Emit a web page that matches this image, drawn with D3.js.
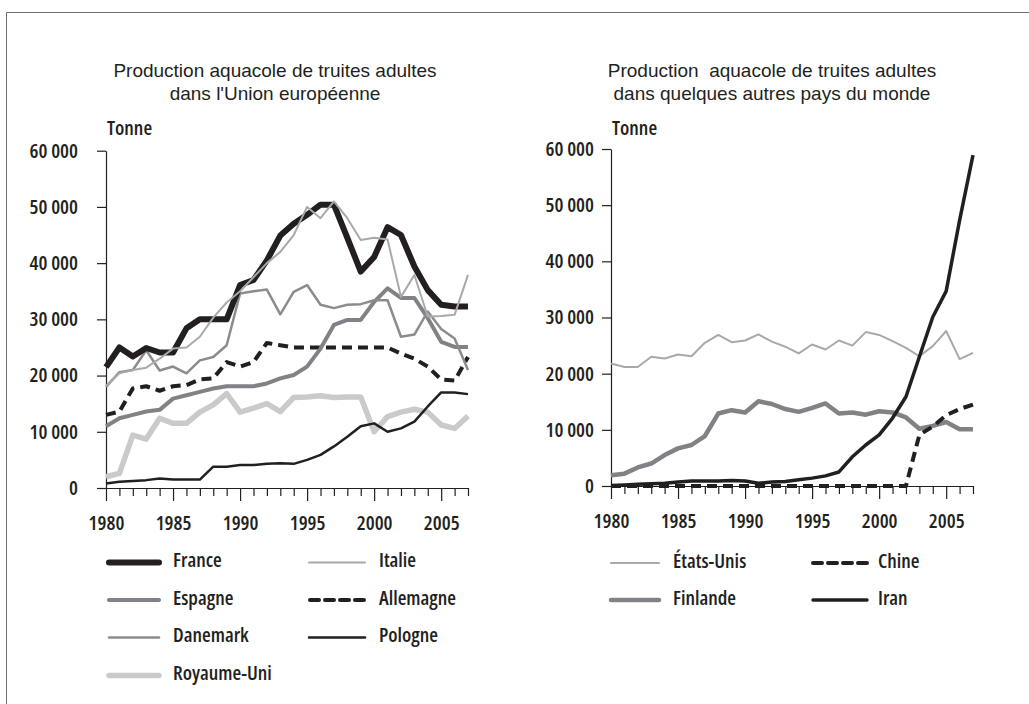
<!DOCTYPE html>
<html>
<head>
<meta charset="utf-8">
<script src="https://cdn.jsdelivr.net/npm/d3@7"></script>
<style>
body { margin: 0; background: #fff; }
text { fill: #231f20; }
.title { font-family: "Liberation Sans", Arial, sans-serif; font-size: 19px; }
.lab, .tick text { font-family: "Open Sans", sans-serif; font-stretch: 75%; font-size: 20px; font-weight: 600; }
.domain, .tick line { stroke: #231f20; stroke-width: 1.2; }
</style>
</head>
<body>
<div id="chart"></div>
<script>
var width = 1029,
  height = 704;

// data (tonnes)
var years = [1980, 1981, 1982, 1983, 1984, 1985, 1986, 1987, 1988, 1989, 1990, 1991, 1992, 1993,
  1994, 1995, 1996, 1997, 1998, 1999, 2000, 2001, 2002, 2003, 2004, 2005, 2006, 2007];
var yTicks = [0, 10000, 20000, 30000, 40000, 50000, 60000];
var xTicks = [1980, 1985, 1990, 1995, 2000, 2005];

var france = [21500, 25000, 23400, 24900, 24100, 24100, 28400, 30000, 30000, 30000, 36100, 37000, 40500, 44900,
  47000, 48600, 50400, 50400, 44500, 38500, 41100, 46400, 45000, 39400, 35200, 32600, 32300, 32300];
var italie = [18200, 20400, 21000, 21400, 23000, 24800, 25000, 26900, 30300, 33000, 35000, 37500, 40000, 42000,
  45000, 50000, 48000, 51000, 48000, 44100, 44500, 44200, 34000, 37900, 30500, 30600, 30800, 37900];
var espagne = [11000, 12400, 13000, 13600, 13900, 15900, 16500, 17100, 17700, 18100, 18100, 18100, 18600, 19500,
  20100, 21600, 24800, 29000, 29900, 29900, 33100, 35500, 33800, 33800, 30200, 26000, 25100, 25100];
var allemagne = [13000, 13600, 17700, 18100, 17300, 18100, 18300, 19300, 19500, 22400, 21600, 22400, 25800, 25400,
  25000, 25000, 25000, 25000, 25000, 25000, 25000, 25000, 23900, 23000, 21600, 19300, 19100, 23300];
var danemark = [18000, 20600, 21000, 24500, 20900, 21600, 20400, 22700, 23300, 25400, 34600, 35000, 35300, 30900,
  34900, 36100, 32600, 32000, 32600, 32700, 33400, 33400, 26900, 27300, 31400, 28300, 26600, 21000];
var pologne = [800, 1100, 1250, 1400, 1700, 1500, 1500, 1500, 3800, 3800, 4100, 4100, 4300, 4400,
  4300, 5000, 5900, 7400, 9100, 11000, 11500, 10000, 10600, 11800, 14500, 17000, 17000, 16700];
var royaumeUni = [2000, 2600, 9400, 8700, 12400, 11500, 11500, 13500, 14800, 16800, 13500, 14200, 15000, 13600,
  16100, 16200, 16400, 16100, 16200, 16200, 10000, 12700, 13500, 14000, 13500, 11200, 10600, 12800];

var etatsUnis = [21800, 21200, 21200, 23000, 22700, 23400, 23100, 25500, 26900, 25600, 25900, 27000, 25700, 24800,
  23600, 25200, 24300, 25900, 25000, 27400, 26900, 25800, 24600, 23100, 24900, 27600, 22600, 23700];
var finlande = [1900, 2200, 3300, 4000, 5500, 6700, 7300, 8900, 12900, 13500, 13100, 15100, 14600, 13700,
  13200, 13900, 14700, 12900, 13100, 12700, 13300, 13100, 12200, 10200, 10700, 11400, 10100, 10100];
var chine = [0, 0, 0, 0, 0, 0, 0, 0, 0, 0, 0, 0, 0, 0,
  0, 0, 0, 0, 0, 0, 0, 0, 0, 9100, 10600, 12600, 13700, 14500];
var iran = [100, 200, 300, 400, 500, 700, 900, 900, 900, 1000, 900, 500, 700, 800,
  1100, 1400, 1800, 2500, 5200, 7300, 9100, 12100, 15900, 23000, 30100, 34700, 47300, 58900];

var black = "#231f20";

var svg = d3.select("#chart").append("svg")
  .attr("width", width)
  .attr("height", height);

// frame
svg.append("path")
  .attr("d", "M6.5," + height + "V12.5H" + width)
  .attr("fill", "none")
  .attr("stroke", "#6d6e71")
  .attr("stroke-width", 1);

var fmt = function (d) { return d3.format(",")(d).replace(/,/g, "\u00a0"); };

function panel(p) {
  var x = d3.scaleLinear().domain([1980, 2007]).range([p.x0, p.x1]);
  var y = d3.scaleLinear().domain([0, 60000]).range([p.y0, p.y1]);
  var g = svg.append("g");

  var t = g.append("text").attr("class", "title").attr("text-anchor", "middle");
  p.title.forEach(function (s, i) {
    t.append("tspan").attr("x", p.cx).attr("y", 77 + i * 23).attr("xml:space", "preserve").text(s);
  });

  g.append("text").attr("class", "lab").attr("x", p.x0 + 1).attr("y", 135).text("Tonne");

  g.append("g")
    .attr("transform", "translate(" + p.x0 + ",0)")
    .call(d3.axisLeft(y).tickValues(yTicks).tickSize(9).tickSizeOuter(0).tickPadding(p.pad).tickFormat(fmt));

  var xa = g.append("g")
    .attr("transform", "translate(0," + p.y0 + ")")
    .call(d3.axisBottom(x).tickValues(years).tickSize(8).tickSizeOuter(0).tickPadding(20)
      .tickFormat(function (d) { return xTicks.indexOf(d) >= 0 ? d : ""; }));
  xa.selectAll(".tick").filter(function (d) { return xTicks.indexOf(d) >= 0; })
    .select("line").attr("y2", 13);

  var line = d3.line()
    .x(function (d, i) { return x(years[i]); })
    .y(function (d) { return y(d); });

  g.selectAll(".serie").data(p.series).enter().append("path")
    .attr("class", "serie")
    .attr("d", function (d) { return line(d.values); })
    .attr("fill", "none")
    .attr("stroke", function (d) { return d.color; })
    .attr("stroke-width", function (d) { return d.w; })
    .attr("stroke-dasharray", function (d) { return d.dash || null; })
    .attr("stroke-linejoin", "round");

  // legend
  var lg = g.selectAll(".leg").data(p.legend).enter().append("g")
    .attr("transform", function (d) { return "translate(" + d.lx + "," + d.ly + ")"; });
  lg.append("line")
    .attr("x1", 0).attr("x2", function (d) { return d.len; })
    .attr("y1", -4.5).attr("y2", -4.5)
    .attr("stroke", function (d) { return d.s.color; })
    .attr("stroke-width", function (d) { return d.s.w; })
    .attr("stroke-dasharray", function (d) { return d.s.dash ? "9,6" : null; })
    .attr("stroke-linecap", "round");
  lg.append("text").attr("class", "lab")
    .attr("x", function (d) { return d.tx; })
    .text(function (d) { return d.s.name; });
}

var sFrance = { name: "France", values: france, color: black, w: 6 };
var sItalie = { name: "Italie", values: italie, color: "#a7a9ac", w: 2 };
var sEspagne = { name: "Espagne", values: espagne, color: "#808285", w: 4 };
var sAllemagne = { name: "Allemagne", values: allemagne, color: black, w: 4, dash: "10,6" };
var sDanemark = { name: "Danemark", values: danemark, color: "#8a8c8e", w: 2.5 };
var sPologne = { name: "Pologne", values: pologne, color: black, w: 2.5 };
var sRoyaume = { name: "Royaume-Uni", values: royaumeUni, color: "#c9cacc", w: 5.5 };

var sEtats = { name: "États-Unis", values: etatsUnis, color: "#a7a9ac", w: 2 };
var sFinlande = { name: "Finlande", values: finlande, color: "#808285", w: 4.5 };
var sChine = { name: "Chine", values: chine, color: black, w: 4, dash: "10,6" };
var sIran = { name: "Iran", values: iran, color: black, w: 3.5 };

panel({
  x0: 106, x1: 468, y0: 488, y1: 150.7, cx: 275, pad: 19,
  title: ["Production aquacole de truites adultes", "dans l'Union européenne"],
  series: [sRoyaume, sPologne, sAllemagne, sEspagne, sDanemark, sFrance, sItalie],
  legend: [
    { s: sFrance, lx: 109, ly: 567, len: 50, tx: 64 },
    { s: sEspagne, lx: 109, ly: 604.5, len: 50, tx: 64 },
    { s: sDanemark, lx: 109, ly: 642, len: 50, tx: 64 },
    { s: sRoyaume, lx: 109, ly: 680, len: 50, tx: 64 },
    { s: sItalie, lx: 309, ly: 567, len: 56, tx: 70 },
    { s: sAllemagne, lx: 310, ly: 604.5, len: 55, tx: 69 },
    { s: sPologne, lx: 309, ly: 642, len: 56, tx: 70 }
  ]
});

panel({
  x0: 611, x1: 973, y0: 486, y1: 149, cx: 772, pad: 8,
  title: ["Production  aquacole de truites adultes", "dans quelques autres pays du monde"],
  series: [sEtats, sFinlande, sChine, sIran],
  legend: [
    { s: sEtats, lx: 611, ly: 567.5, len: 48, tx: 62 },
    { s: sFinlande, lx: 611, ly: 604.5, len: 48, tx: 62 },
    { s: sChine, lx: 813, ly: 567.5, len: 54, tx: 65 },
    { s: sIran, lx: 813, ly: 604.5, len: 54, tx: 65 }
  ]
});
</script>
</body>
</html>
